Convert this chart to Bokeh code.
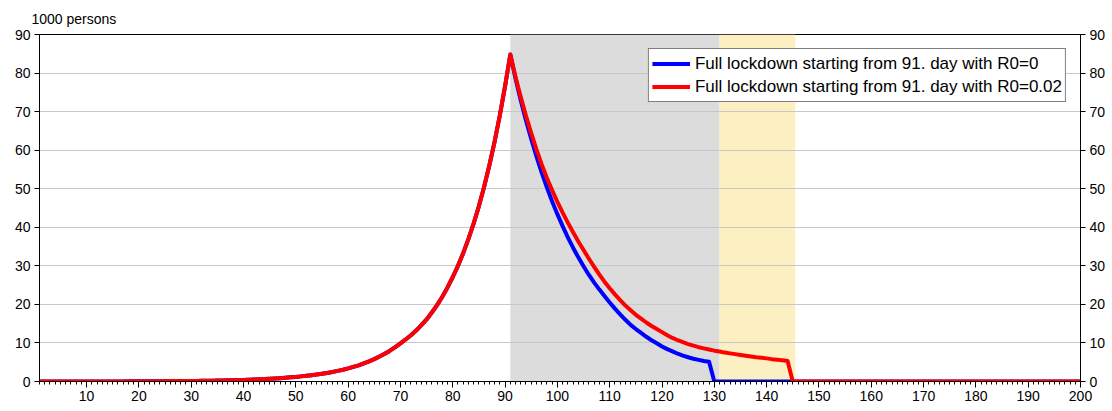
from bokeh.plotting import figure
from bokeh.models import (LinearAxis, SingleIntervalTicker, Legend, LegendItem,
                          Range1d, BoxAnnotation)
from bokeh.embed import file_html
from bokeh.resources import INLINE

# ---------------- data (1000 persons, by day) ----------------
days = list(range(1, 201))

# common path before lockdown, days 1..91
rise = [0.01, 0.01, 0.01, 0.01, 0.01, 0.01, 0.01, 0.01, 0.01, 0.02,
        0.02, 0.02, 0.02, 0.02, 0.03, 0.03, 0.03, 0.04, 0.04, 0.05,
        0.06, 0.06, 0.07, 0.08, 0.09, 0.10, 0.11, 0.12, 0.13, 0.15,
        0.16, 0.18, 0.20, 0.22, 0.25, 0.28, 0.31, 0.34, 0.38, 0.42,
        0.47, 0.52, 0.58, 0.64, 0.71, 0.79, 0.87, 0.97, 1.08, 1.19,
        1.33, 1.47, 1.63, 1.81, 2.01, 2.23, 2.48, 2.75, 3.05, 3.4,
        3.8, 4.2, 4.7, 5.2, 5.8, 6.5, 7.2, 8.0, 8.9, 9.9,
        10.9, 12.0, 13.2, 14.6, 16.1, 17.9, 19.8, 22.0, 24.4, 27.1,
        30.0, 33.3, 37.0, 41.0, 45.5, 50.5, 56.1, 62.2, 69.0, 76.6,
        84.8]

# R0 = 0 : days 92..129, then zero from day 130
blue_after = [78.6, 72.9, 67.7, 62.9, 58.4, 54.2, 50.3, 46.7, 43.4, 40.3,
              37.4, 34.7, 32.2, 29.9, 27.7, 25.7, 23.9, 22.2, 20.5, 18.9,
              17.4, 16.0, 14.7, 13.6, 12.6, 11.6, 10.7, 9.9, 9.1, 8.4,
              7.8, 7.2, 6.7, 6.3, 5.9, 5.6, 5.3, 5.1] + [0.0] * 71

# R0 = 0.02 : days 92..144, then zero from day 145
red_after = [79.0, 73.8, 68.9, 64.4, 60.2, 56.3, 52.8, 49.6, 46.6, 43.8,
             41.2, 38.7, 36.3, 34.1, 31.9, 29.8, 27.8, 25.9, 24.2, 22.6,
             21.1, 19.7, 18.5, 17.3, 16.3, 15.3, 14.4, 13.6, 12.8, 12.0,
             11.3, 10.7, 10.2, 9.7, 9.3, 8.9, 8.6, 8.3, 8.0, 7.8,
             7.5, 7.3, 7.1, 6.9, 6.7, 6.5, 6.3, 6.15, 6.0, 5.8,
             5.65, 5.5, 5.3] + [0.0] * 56

blue = rise + blue_after
red = rise + red_after

label_blue = "Full lockdown starting from 91. day with R0=0"
label_red = "Full lockdown starting from 91. day with R0=0.02"

lockdown_start = 91
lockdown_end = 131
extra_end = 145.5

x_start, x_end = 1, 200
y_start, y_end = 0, 90

FONT = "Liberation Sans"

# ---------------- figure ----------------
p = figure(frame_width=1041, frame_height=347,
           x_range=Range1d(x_start, x_end), y_range=Range1d(y_start, y_end),
           output_backend="svg", toolbar_location=None,
           min_border_left=39, min_border_right=28, min_border_top=34,
           min_border_bottom=24)

p.title.text = "1000 persons"
p.title.text_font = FONT
p.title.text_font_size = "14px"
p.title.text_font_style = "normal"
p.title.text_color = "black"
p.title.align = "left"
p.title.offset = -8
p.title.standoff = 16

p.outline_line_color = "black"
p.outline_line_width = 1
p.background_fill_color = "white"
p.border_fill_color = "white"

# bands
p.add_layout(BoxAnnotation(left=lockdown_start, right=lockdown_end,
                           fill_color="#dcdcdc", fill_alpha=1.0,
                           line_color=None, level="image"))
p.add_layout(BoxAnnotation(left=lockdown_end, right=extra_end,
                           fill_color="#fcf0c2", fill_alpha=1.0,
                           line_color=None, level="image"))

# grid
p.xgrid.visible = False
ytick = SingleIntervalTicker(interval=10, num_minor_ticks=0)
p.ygrid.ticker = ytick
p.ygrid.grid_line_color = "#c8c8c8"
p.ygrid.grid_line_width = 1

# x axis
xa = p.xaxis[0]
xa.ticker = SingleIntervalTicker(interval=10, num_minor_ticks=10)
xa.axis_line_color = "black"
xa.major_tick_line_color = "black"
xa.minor_tick_line_color = "black"
xa.major_tick_out = 6
xa.major_tick_in = 0
xa.minor_tick_out = 3
xa.minor_tick_in = 0
xa.major_label_standoff = 3
xa.major_label_text_font = FONT
xa.major_label_text_font_size = "14px"
xa.major_label_text_color = "black"

# y axes
def style_y(ax):
    ax.ticker = ytick
    ax.axis_line_color = "black"
    ax.major_tick_line_color = "black"
    ax.major_tick_out = 5
    ax.major_tick_in = 0
    ax.minor_tick_line_color = None
    ax.major_label_standoff = 4
    ax.major_label_text_font = FONT
    ax.major_label_text_font_size = "14px"
    ax.major_label_text_color = "black"

style_y(p.yaxis[0])
ra = LinearAxis()
style_y(ra)
p.add_layout(ra, "right")

# lines
rb = p.line(days, blue, line_color="#0000ff", line_width=4, line_join="round")
rr = p.line(days, red, line_color="#ff0000", line_width=4, line_join="round")

legend = Legend(items=[LegendItem(label=label_blue, renderers=[rb]),
                       LegendItem(label=label_red, renderers=[rr])],
                location="top_right", margin=14, padding=3, spacing=0,
                glyph_width=38, glyph_height=23, label_height=23,
                label_standoff=5,
                label_text_font=FONT, label_text_font_size="17px",
                label_text_color="black",
                border_line_color="black", border_line_width=1,
                background_fill_color="white", background_fill_alpha=1.0)
p.add_layout(legend)

open("out.html", "w").write(file_html(p, INLINE))
